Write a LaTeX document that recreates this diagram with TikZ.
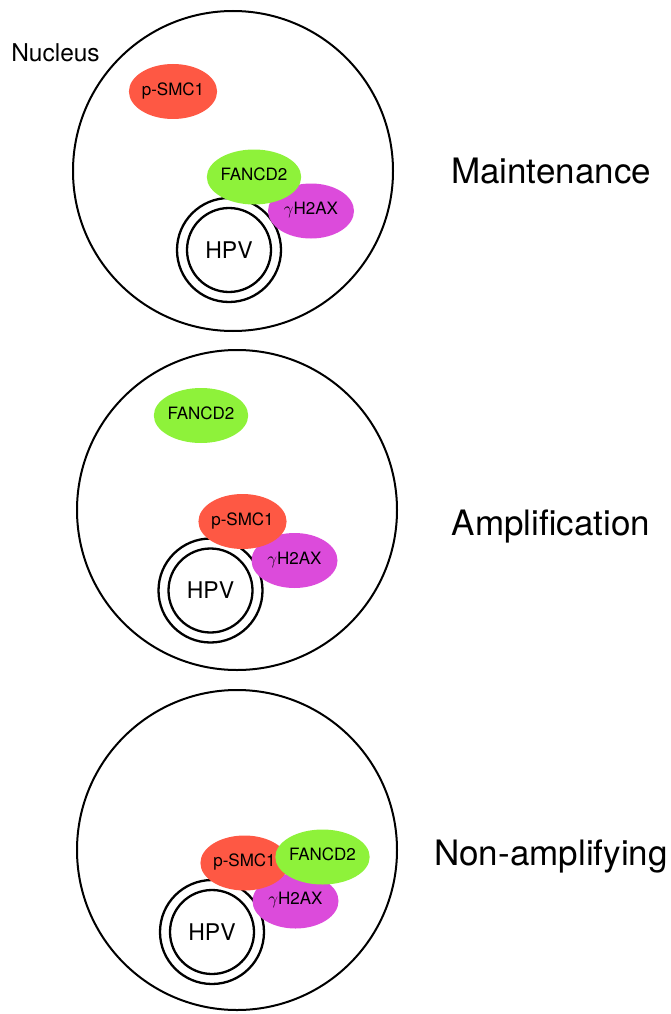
\documentclass[tikz,border=0pt]{standalone}
\usepackage{fontspec}
\setmainfont{TeX Gyre Heros}
\usetikzlibrary{shapes.geometric}
\definecolor{smcred}{HTML}{FE5844}
\definecolor{fancgreen}{HTML}{8EF23A}
\definecolor{haxpink}{HTML}{DC4BDB}
\tikzset{
	nucleus/.style={circle, draw, line width=2pt, minimum size=320pt, inner sep=0pt},
	hpvout/.style={circle, draw, fill=white, line width=2.3pt, minimum size=104pt, inner sep=0pt},
	hpvin/.style={circle, draw, line width=2.3pt, minimum size=84pt, inner sep=0pt, font=\fontsize{23}{26}\selectfont},
	protein/.style={ellipse, minimum width=86pt, minimum height=55pt, inner sep=0pt, text height=0.72em, text depth=0pt, font=\fontsize{17}{20}\selectfont},
	smc/.style={protein, fill=smcred},
	fanc/.style={protein, fill=fancgreen},
	hax/.style={protein, fill=haxpink},
	stagetext/.style={anchor=base, font=\fontsize{35}{40}\selectfont}
}
\begin{document}
\begin{tikzpicture}[x=1pt,y=-1pt]
		\useasboundingbox (0,0) rectangle (670,1014);
		
		%%%%% MAINTENANCE %%%%%
		\node[nucleus] (nuc1) at (233,171) {};
		\node[anchor=base, font=\fontsize{24.5}{28}\selectfont] (nuctext) at (55.5,61.7) {Nucleus};
		\node[smc] (smc1) at (173,91.5) {p-SMC1};
		\node[hpvout] (hpv1) at (229,250) {};
		\node[hpvin] (hpv1in) at (229,250) {HPV};
		\node[hax] (hax1) at (311,211) {$\gamma$H2AX};
		\node[fanc] (fanc1) at (254,177) {FANCD2};
		\node[stagetext] (stage1) at (551,183) {Maintenance};
		
		%%%%% AMPLIFICATION %%%%%
		\node[nucleus] (nuc2) at (237,510) {};
		\node[fanc] (fanc2) at (201,415.5) {FANCD2};
		\node[hpvout] (hpv2) at (210.5,590.5) {};
		\node[hpvin] (hpv2in) at (210.5,590.5) {HPV};
		\node[hax] (hax2) at (294.5,560.5) {$\gamma$H2AX};
		\node[smc] (smc2) at (242.5,521.5) {p-SMC1};
		\node[stagetext] (stage2) at (551,535) {Amplification};
		
		%%%%% NON-AMPLIFYING %%%%%
		\node[nucleus] (nuc3) at (237,850) {};
		\node[hpvout] (hpv3) at (212,932) {};
		\node[hpvin] (hpv3in) at (212,932) {HPV};
		\node[hax] (hax3) at (295.5,901) {$\gamma$H2AX};
		\node[smc] (smc3) at (244.5,863) {p-SMC1};
		\node[fanc] (fanc3) at (322.5,857) {FANCD2};
		\node[stagetext] (stage3) at (551,865) {Non-amplifying};
		
	\end{tikzpicture}
\end{document}
